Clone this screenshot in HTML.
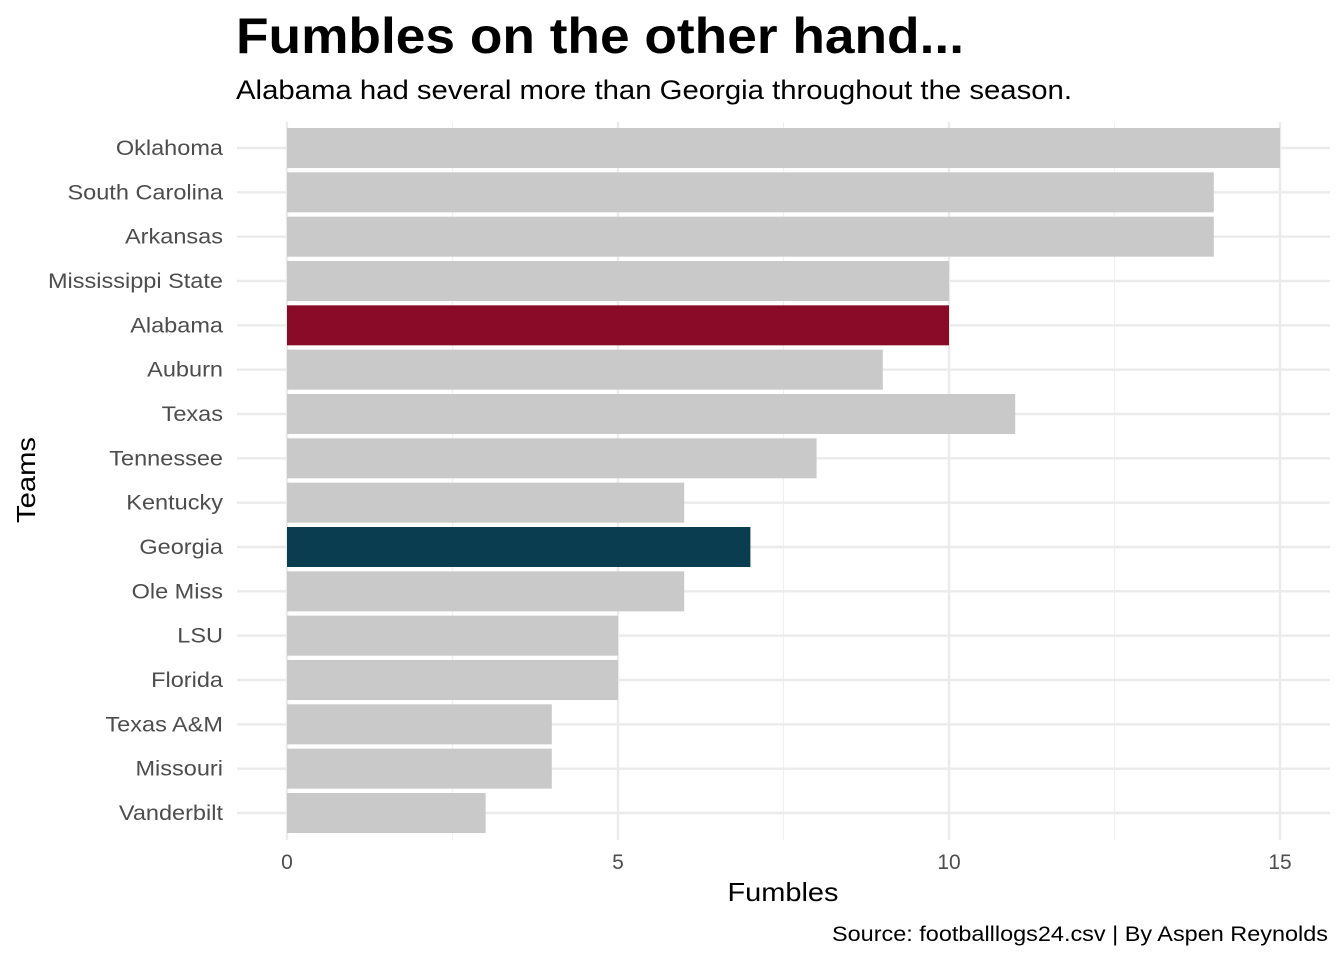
<!DOCTYPE html>
<html><head><meta charset="utf-8"><style>
body{margin:0;background:#fff;}
svg{display:block;font-family:"Liberation Sans",Arial,sans-serif;}
</style></head><body>
<svg id="chart" width="1344" height="960">
<text x="236" y="53" font-size="50" font-weight="bold" fill="#000" textLength="728" lengthAdjust="spacingAndGlyphs">Fumbles on the other hand...</text>
<text x="236" y="99" font-size="27" fill="#000" textLength="836" lengthAdjust="spacingAndGlyphs">Alabama had several more than Georgia throughout the season.</text>
<g id="grid"></g>
<g id="bars"></g>
<g id="ylabels"></g>
<g id="xlabels"></g>
<text x="783" y="901" font-size="26" text-anchor="middle" fill="#000" textLength="111" lengthAdjust="spacingAndGlyphs">Fumbles</text>
<text transform="translate(35,480) rotate(-90)" font-size="26" text-anchor="middle" fill="#000" textLength="86" lengthAdjust="spacingAndGlyphs">Teams</text>
<text x="1328" y="941" font-size="21" text-anchor="end" fill="#000" textLength="496" lengthAdjust="spacingAndGlyphs">Source: footballlogs24.csv | By Aspen Reynolds</text>
</svg>
<script>
const teams=["Oklahoma","South Carolina","Arkansas","Mississippi State","Alabama","Auburn","Texas","Tennessee","Kentucky","Georgia","Ole Miss","LSU","Florida","Texas A&M","Missouri","Vanderbilt"];
const fumbles=[15,14,14,10,10,9,11,8,6,7,6,5,5,4,4,3];
const xTicks=[0,5,10,15];
const xMinor=[2.5,7.5,12.5];
const highlight={"Alabama":"#8a0b28","Georgia":"#093d4f"};

const NS="http://www.w3.org/2000/svg";
const x0=287,x1=1280,xMax=15;
const px=v=>x0+(x1-x0)*v/xMax;
const yTop=148,step=(813-148)/15;
const py=i=>yTop+i*step;
const pL=237,pR=1330,pT=122,pB=840;
function mk(tag,attrs,parent){const e=document.createElementNS(NS,tag);for(const k in attrs)e.setAttribute(k,attrs[k]);parent.appendChild(e);return e;}
const grid=document.getElementById('grid'),bars=document.getElementById('bars'),yl=document.getElementById('ylabels'),xl=document.getElementById('xlabels');
xMinor.forEach(v=>{const l=mk('line',{x1:px(v),x2:px(v),y1:pT,y2:pB,stroke:'#f0f0f0','stroke-width':1.2},grid);

});
xTicks.forEach(v=>{const l=mk('line',{x1:px(v),x2:px(v),y1:pT,y2:pB,stroke:'#ebebeb','stroke-width':2.4},grid);


const t=mk('text',{x:px(v),y:869,'font-size':21,'text-anchor':'middle',fill:'#4d4d4d'},xl);t.textContent=v;

});
teams.forEach((n,i)=>{const l=mk('line',{x1:pL,x2:pR,y1:py(i),y2:py(i),stroke:'#ebebeb','stroke-width':2.4},grid);


const b=mk('rect',{x:px(0),y:py(i)-20,width:px(fumbles[i])-px(0),height:40,fill:highlight[n]||'#c9c9c9'},bars);


const t=mk('text',{x:223,y:py(i)+7,'font-size':21,'text-anchor':'end',fill:'#4d4d4d'},yl);t.textContent=n;


t.setAttribute('transform','translate(223,0) scale(1.12,1) translate(-223,0)');});
</script>
</body></html>
